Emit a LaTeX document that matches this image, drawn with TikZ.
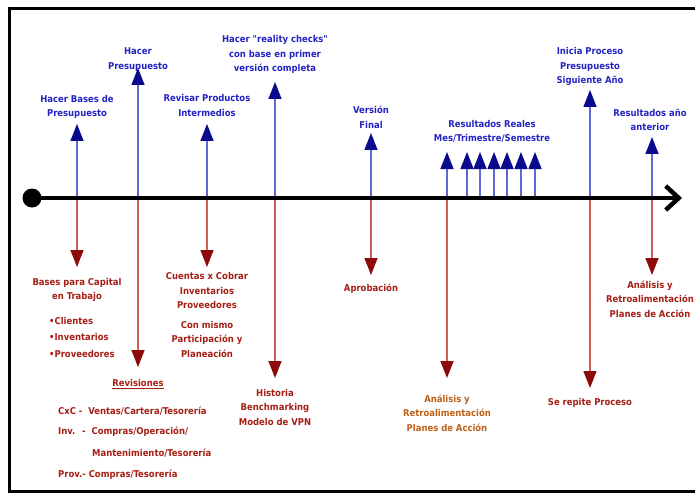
\documentclass[tikz,border=0pt]{standalone}
\usepackage{fontspec}
\setmainfont{DejaVu Sans Condensed}
\usetikzlibrary{arrows.meta}
\definecolor{txtblue}{RGB}{35,35,195}
\definecolor{headblue}{RGB}{10,10,140}
\definecolor{lineblue}{RGB}{95,105,215}
\definecolor{txtred}{RGB}{165,30,20}
\definecolor{headred}{RGB}{140,10,10}
\definecolor{linered}{RGB}{205,95,85}
\definecolor{txtorange}{RGB}{190,95,25}

\begin{document}
\begin{tikzpicture}[x=1pt, y=-1pt,
	every node/.style={font=\bfseries\fontsize{9.4}{14.5}\selectfont, align=center, inner sep=0pt},
	up/.style={draw=lineblue, line width=1.5pt, -{Triangle[length=17pt,width=13pt,color=headblue]}},
	down/.style={draw=linered, line width=1.5pt, -{Triangle[length=17pt,width=13pt,color=headred]}},
	blab/.style={text=txtblue},
	rlab/.style={text=txtred}]
	\useasboundingbox (0,0) rectangle (695,497);
	\draw[line width=3pt] (9,9) rectangle (720,491);
	\foreach \n/\x/\u/\d in {1/77/124/267, 2/138/68/367, 3/207/124/267, 4/275/82/378,
		5/371/133/275, 6/447/152/378, 7/590/90/388, 8/652/137/275} {
		\coordinate (p\n) at (\x,198);
		\coordinate (u\n) at (\x,\u);
		\coordinate (d\n) at (\x,\d);
		\draw[up] (p\n) -- (u\n);
		\draw[down] (p\n) -- (d\n);
	}
	\foreach \x in {467,480,494,507,521,535} {
		\coordinate (s\x) at (\x,198);
		\coordinate (m\x) at (\x,152);
		\draw[up] (s\x) -- (m\x);
	}
	\fill (32,198) circle (9.5pt);
	\coordinate (start) at (32,198);
	\coordinate (end) at (682,198);
	\draw[line width=4.5pt, -{Straight Barb[length=13pt,width=24pt]}] (start) -- (end);
	\node[blab] (t1) at (77,107) {Hacer Bases de\\Presupuesto};
	\node[blab] (t2) at (138,59.5) {Hacer\\Presupuesto};
	\node[blab] (t3) at (207,105.5) {Revisar Productos\\Intermedios};
	\node[blab] (t4) at (275,54.5) {Hacer \textquotedbl reality checks\textquotedbl\\con base en primer\\versión completa};
	\node[blab] (t5) at (371,117.5) {Versión\\Final};
	\node[blab] (t6) at (492,131.5) {Resultados Reales\\Mes/Trimestre/Semestre};
	\node[blab] (t7) at (590,66.5) {Inicia Proceso\\Presupuesto\\Siguiente Año};
	\node[blab] (t8) at (650,120) {Resultados año\\anterior};
	\node[rlab] (b1) at (77,290) {Bases para Capital\\en Trabajo};
	\node[rlab, align=left, anchor=west, font=\bfseries\fontsize{9.4}{16.5}\selectfont] (bl) at (49,337) {•Clientes\\•Inventarios\\•Proveedores};
	\node[rlab] (b2) at (138,384) {\underline{Revisiones}};
	\node[rlab, anchor=west] (r1) at (58,411) {CxC -\ \ Ventas/Cartera/Tesorería};
	\node[rlab, anchor=west] (r2) at (58,432) {Inv. \ - \ Compras/Operación/};
	\node[rlab, anchor=west] (r3) at (92,453) {Mantenimiento/Tesorería};
	\node[rlab, anchor=west] (r4) at (58,475) {Prov.- Compras/Tesorería};
	\node[rlab] (b3) at (207,290.5) {Cuentas x Cobrar\\Inventarios\\Proveedores};
	\node[rlab] (c3) at (207,339) {Con mismo\\Participación y\\Planeación};
	\node[rlab] (b4) at (275,407) {Historia\\Benchmarking\\Modelo de VPN};
	\node[rlab] (b5) at (371,289) {Aprobación};
	\node[text=txtorange] (b6) at (447,413) {Análisis y\\Retroalimentación\\Planes de Acción};
	\node[rlab] (b7) at (590,403) {Se repite Proceso};
	\node[rlab] (b8) at (650,299) {Análisis y\\Retroalimentación\\Planes de Acción};
\end{tikzpicture}
\end{document}
